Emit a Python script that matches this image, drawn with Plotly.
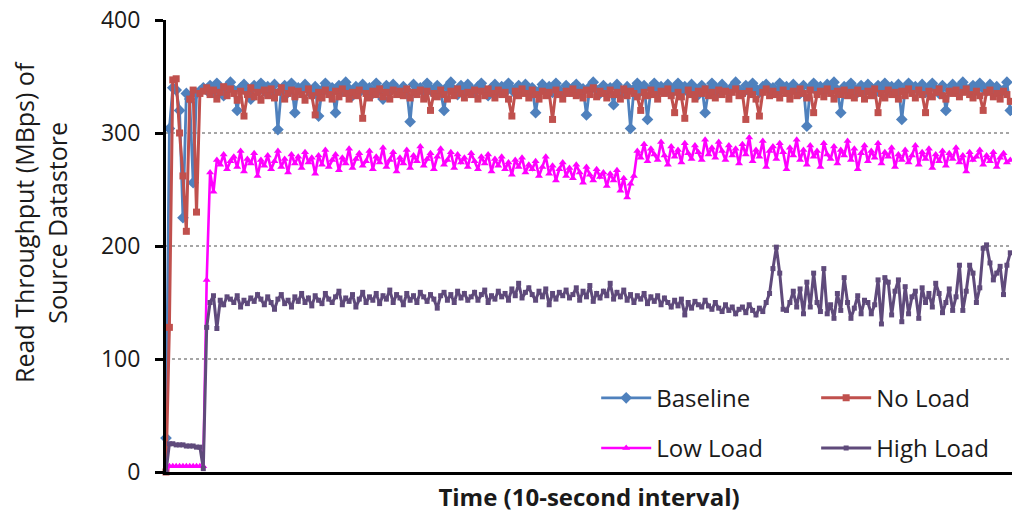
import plotly.graph_objects as go

series_names = ["Baseline", "No Load", "Low Load", "High Load"]

baseline = [
    30, 304, 340, 338, 320, 225, 335, 330, 256, 335,
    337, 340, 338, 342, 336, 344, 339, 333, 341, 345,
    338, 320, 340, 343, 336, 330, 342, 339, 344, 337,
    341, 335, 343, 303, 338, 342, 336, 344, 318, 340,
    337, 343, 339, 334, 341, 315, 338, 344, 336, 340,
    318, 342, 337, 345, 339, 333, 341, 336, 343, 338,
    340, 335, 344, 338, 330, 342, 337, 343, 339, 336,
    341, 338, 310, 343, 337, 340, 336, 344, 339, 335,
    342, 337, 320, 341, 345, 338, 334, 342, 337, 343,
    339, 336, 341, 344, 338, 333, 340, 343, 337, 341,
    336, 344, 339, 335, 342, 338, 343, 336, 340, 318,
    337, 343, 339, 341, 336, 344, 338, 334, 342, 337,
    340, 343, 336, 339, 316, 341, 345, 338, 335, 342,
    337, 340, 325, 343, 338, 336, 341, 304, 339, 344,
    337, 342, 312, 339, 344, 336, 341, 338, 343, 335,
    340, 344, 337, 341, 336, 343, 339, 334, 342, 318,
    338, 344, 340, 336, 343, 339, 337, 341, 345, 338,
    335, 342, 337, 344, 339, 336, 341, 343, 338, 340,
    336, 344, 339, 341, 337, 343, 338, 335, 342, 306,
    340, 344, 337, 341, 336, 343, 339, 345, 338, 318,
    341, 337, 344, 339, 336, 342, 338, 343, 340, 335,
    342, 338, 344, 337, 341, 336, 343, 312, 339, 344,
    337, 341, 338, 343, 336, 340, 344, 339, 335, 342,
    320, 338, 343, 337, 341, 345, 339, 336, 342, 338,
    344, 340, 337, 343, 339, 341, 336, 338, 345, 320,
]

no_load = [
    0, 128, 347, 348, 300, 262, 213, 330, 338, 230,
    335, 337, 340, 334, 338, 330, 336, 341, 333, 339,
    335, 329, 337, 315, 334, 340, 332, 336, 329, 338,
    333, 339, 331, 336, 340, 330, 335, 338, 332, 337,
    334, 329, 339, 333, 316, 336, 331, 338, 334, 330,
    337, 332, 339, 335, 330, 336, 333, 338, 313, 335,
    331, 337, 334, 339, 332, 336, 330, 338, 334, 337,
    333, 339, 331, 336, 334, 338, 330, 337, 320, 335,
    332, 338, 334, 330, 337, 333, 339, 335, 331, 336,
    334, 338, 330, 337, 333, 339, 335, 331, 338, 334,
    336, 330, 315, 337, 333, 339, 335, 331, 338, 334,
    330, 337, 333, 336, 312, 338, 334, 330, 337, 335,
    339, 333, 336, 331, 338, 334, 340, 332, 337, 335,
    331, 338, 334, 336, 330, 339, 333, 337, 335, 332,
    320, 336, 333, 338, 334, 330, 337, 335, 339, 333,
    318, 336, 332, 313, 338, 334, 330, 337, 335, 339,
    333, 336, 331, 338, 334, 337, 330, 336, 339, 333,
    335, 312, 337, 334, 330, 315, 336, 339, 333, 337,
    334, 331, 338, 335, 330, 337, 333, 339, 335, 331,
    338, 318, 334, 337, 332, 339, 335, 330, 337, 334,
    338, 333, 336, 331, 338, 335, 330, 337, 333, 339,
    318, 335, 331, 338, 334, 336, 330, 337, 333, 339,
    335, 331, 338, 334, 318, 337, 332, 336, 339, 333,
    330, 337, 335, 338, 332, 336, 339, 334, 331, 337,
    333, 320, 336, 338, 332, 335, 330, 337, 334, 328,
]

low_load = [
    0, 5, 5, 5, 5, 5, 5, 5, 5, 5,
    5, 5, 170, 265, 248, 276, 272, 281, 268, 275,
    279, 270, 284, 266, 277, 273, 282, 262, 276, 271,
    280, 268, 275, 284, 270, 277, 265, 281, 273, 279,
    269, 283, 274, 278, 264, 280, 272, 285, 270, 276,
    281, 267, 278, 273, 286, 269, 277, 282, 271, 275,
    284, 268, 279, 274, 287, 270, 276, 283, 266, 278,
    273, 285, 269, 280, 275, 288, 271, 277, 282, 268,
    279, 286, 272, 276, 283, 269, 281, 274, 278, 270,
    282, 275, 268, 279, 273, 281, 266, 277, 271, 279,
    268, 274, 263, 276, 270, 278, 265, 272, 268, 275,
    262, 270, 279, 264, 271, 258, 268, 274, 262, 269,
    260, 272, 265, 256, 270, 263, 258, 268, 261, 265,
    253, 264, 258, 267, 249, 260, 243, 255, 262, 284,
    278, 290, 275, 286, 281, 276, 292, 280, 272, 288,
    279, 285, 274, 291, 282, 277, 289, 283, 276, 294,
    281, 287, 278, 292, 284, 276, 289, 280, 286, 273,
    290, 281, 296, 275, 285, 279, 293, 270, 284, 288,
    277, 291, 283, 268, 287, 280, 294, 276, 285, 272,
    289, 279, 284, 270, 291, 281, 277, 288, 273, 285,
    280, 293, 276, 286, 268, 282, 289, 275, 284, 278,
    291, 273, 283, 279, 287, 270, 281, 276, 285, 274,
    280, 289, 272, 283, 277, 286, 269, 281, 275, 284,
    271, 282, 277, 287, 274, 280, 266, 283, 276, 279,
    285, 272, 280, 275, 283, 270, 278, 282, 274, 276,
]

high_load = [
    0, 25, 25, 24, 24, 24, 23, 23, 23, 22,
    22, 3, 128, 150, 156, 127, 152, 148, 155, 153,
    150, 156, 146, 152, 149, 154, 151, 157, 153, 148,
    155, 150, 144, 153, 157, 149, 152, 146, 155, 151,
    158, 150, 154, 147, 156, 152, 149, 158, 153, 150,
    155, 160, 148, 154, 151, 157, 146, 153, 159, 150,
    155, 152, 158, 149, 156, 153, 161, 150, 157, 154,
    148, 158, 152, 156, 150, 159, 155, 151, 157, 153,
    145, 156, 159, 152, 157, 150, 160, 154, 158, 152,
    155, 159, 152, 157, 161, 150, 156, 153, 160, 155,
    158, 152, 162, 156, 167, 154, 159, 163, 157, 152,
    160, 155, 162, 148, 158, 153, 159, 156, 161, 154,
    157, 163, 152, 160, 155, 165, 151, 158, 154, 160,
    156, 167, 153, 159, 155, 161, 152, 157, 150, 156,
    153, 158, 149, 155, 151, 156, 148, 154, 150, 146,
    152, 147, 153, 139, 150, 145, 151, 148, 146, 152,
    147, 144, 150, 145, 142, 148, 143, 146, 140, 144,
    146, 141, 148, 143, 139, 145, 142, 150, 158, 180,
    199, 176, 144, 143, 150, 160, 146, 162, 140, 168,
    146, 176, 150, 142, 180, 140, 148, 136, 158, 143,
    172, 150, 136, 145, 156, 140, 152, 150, 140, 148,
    170, 131, 172, 168, 139, 160, 170, 133, 164, 140,
    155, 160, 136, 163, 150, 158, 146, 167, 158, 141,
    150, 162, 143, 155, 183, 143, 160, 183, 176, 150,
    163, 198, 201, 185, 170, 176, 182, 157, 183, 194,
]

y_ticks = [0, 100, 200, 300, 400]
y_title = "Read Throughput (MBps) of<br>Source Datastore"
x_title = "<b>Time (10-second interval)</b>"

FONT = "Open Sans"
TXT = "#1a1a1a"
x = list(range(len(baseline)))

styles = [
    dict(color="#4F81BD", symbol="diamond", size=9, width=2.8, legend="legend"),
    dict(color="#C0504D", symbol="square", size=7, width=3, legend="legend2"),
    dict(color="#FF00FF", symbol="triangle-up", size=7, width=2.6, legend="legend"),
    dict(color="#5F4A7B", symbol="square", size=5, width=3, legend="legend2"),
]
data = [baseline, no_load, low_load, high_load]

fig = go.Figure()
for name, ys, st in zip(series_names, data, styles):
    fig.add_trace(go.Scatter(
        x=x, y=ys, name=name, mode="lines+markers",
        line=dict(color=st["color"], width=st["width"]),
        marker=dict(color=st["color"], symbol=st["symbol"], size=st["size"]),
        legend=st["legend"], legendgroup=name, cliponaxis=False,
    ))

legend_common = dict(
    font=dict(family=FONT, size=24, color=TXT),
    bgcolor="rgba(0,0,0,0)", tracegroupgap=16, traceorder="grouped",
    xanchor="left", yanchor="top", itemwidth=50,
)

fig.update_layout(
    width=1012, height=513,
    margin=dict(l=166, r=0, t=20, b=41),
    paper_bgcolor="white", plot_bgcolor="white",
    font=dict(family=FONT, size=22, color=TXT),
    showlegend=True,
    legend=dict(x=0.5085, y=0.213, **legend_common),
    legend2=dict(x=0.7685, y=0.213, **legend_common),
    xaxis=dict(
        range=[0, len(baseline) - 0.5], showgrid=False, zeroline=False,
        showline=True, linecolor="black", linewidth=3,
        showticklabels=False, ticks="", automargin=False,
        title=dict(text=x_title,
                   font=dict(family=FONT, size=24, color=TXT), standoff=21),
    ),
    yaxis=dict(
        range=[0, 400], tickvals=y_ticks, showgrid=True,
        gridcolor="#A6A6A6", griddash="dot", gridwidth=1.5,
        zeroline=False, showline=True, linecolor="black", linewidth=3,
        ticks="outside", ticklen=8, tickwidth=2.5, tickcolor="black",
        ticklabelstandoff=10, ticklabeloverflow="allow",
        tickfont=dict(family=FONT, size=23, color=TXT), automargin=False,
    ),
    annotations=[dict(
        text=y_title, textangle=-90, xref="paper", yref="paper",
        x=(40 - 166) / 846, y=(472 - 222) / 452, xanchor="center", yanchor="middle",
        showarrow=False, font=dict(family=FONT, size=25, color=TXT),
    )],
)

# remove the page's default body margin so the figure fills the window exactly
fig.write_html("out.html", config={"displayModeBar": False},
               post_script="document.body.style.margin='0px';")
